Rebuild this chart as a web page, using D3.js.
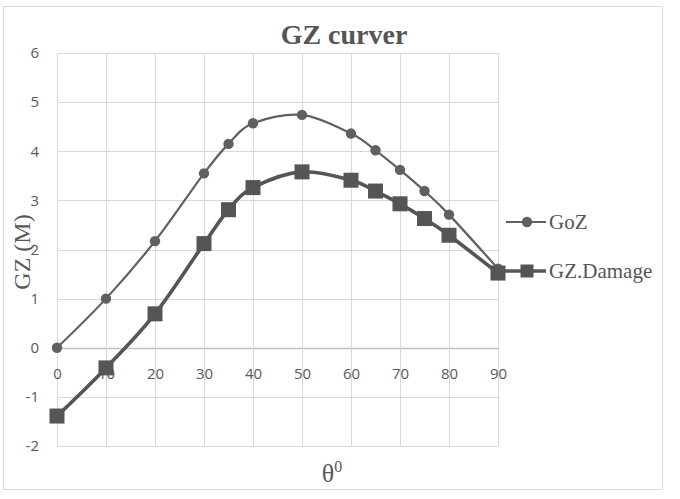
<!DOCTYPE html>
<html>
<head>
<meta charset="utf-8">
<script src="https://cdn.jsdelivr.net/npm/d3@7"></script>
<style>
  html, body { margin: 0; padding: 0; background: #fff; }
  svg { display: block; }
</style>
</head>
<body>
<svg id="chart" width="680" height="499"></svg>
<script>
const angles = [0, 10, 20, 30, 35, 40, 50, 60, 65, 70, 75, 80, 90];
const gozValues = [0, 1.0, 2.17, 3.55, 4.15, 4.57, 4.74, 4.36, 4.02, 3.62, 3.19, 2.71, 1.61];
const damageValues = [-1.39, -0.41, 0.69, 2.12, 2.81, 3.26, 3.58, 3.41, 3.19, 2.93, 2.63, 2.29, 1.52];
const xTicks = [0, 10, 20, 30, 40, 50, 60, 70, 80, 90];
const yTicks = [-2, -1, 0, 1, 2, 3, 4, 5, 6];
const seriesNames = ["GoZ", "GZ.Damage"];
const titleText = "GZ curver";
const yTitle = "GZ (M)";

(function () {
const svg = d3.select("#chart");
const pLeft = 57, pRight = 498, pTop = 53, pBottom = 446;

const x = d3.scaleLinear().domain([0, 90]).range([pLeft, pRight]);
const y = d3.scaleLinear().domain([-2, 6]).range([pBottom, pTop]);

// outer border
svg.append("rect").attr("x", 3.5).attr("y", 6.5).attr("width", 659).attr("height", 483)
  .attr("fill", "#fff").attr("stroke", "#d9d9d9").attr("stroke-width", 1);

// gridlines
const grid = svg.append("g");
grid.selectAll(".hg").data(yTicks).enter().append("line")
  .attr("x1", pLeft).attr("x2", pRight)
  .attr("y1", d => Math.round(y(d)) + 0.5).attr("y2", d => Math.round(y(d)) + 0.5)
  .attr("stroke", d => d === 0 ? "#bfbfbf" : "#d9d9d9").attr("stroke-width", d => d === 0 ? 1.5 : 1);
grid.selectAll(".vg").data(xTicks).enter().append("line")
  .attr("y1", pTop).attr("y2", pBottom)
  .attr("x1", d => Math.round(x(d)) + 0.5).attr("x2", d => Math.round(x(d)) + 0.5)
  .attr("stroke", "#d9d9d9").attr("stroke-width", 1);

const fmt = d => String(d);

// y tick labels
const yAxis = d3.axisLeft(y).tickValues(yTicks).tickSize(0).tickPadding(18).tickFormat(fmt);
const gy = svg.append("g").attr("transform", `translate(${pLeft},0)`).call(yAxis);
gy.select(".domain").remove();
gy.selectAll("text").attr("fill", "#595959").style("font-family", "'Open Sans', sans-serif").style("font-size", "15px");

// x tick labels, below zero line
const xAxis = d3.axisBottom(x).tickValues(xTicks).tickSize(0).tickPadding(21).tickFormat(fmt);
const gx = svg.append("g").attr("transform", `translate(0,${y(0)})`).call(xAxis);
gx.select(".domain").remove();
gx.selectAll("text").attr("fill", "#595959").style("font-family", "'Open Sans', sans-serif").style("font-size", "15px");

// lines
const lineGen = vals => d3.line().x((d, i) => x(angles[i])).y(d => y(d)).curve(d3.curveCatmullRom.alpha(0))(vals);

svg.append("path").attr("d", lineGen(gozValues)).attr("fill", "none").attr("stroke", "#606060").attr("stroke-width", 2.2);
svg.selectAll(".gm").data(gozValues).enter().append("circle")
  .attr("cx", (d, i) => x(angles[i])).attr("cy", d => y(d)).attr("r", 5.2).attr("fill", "#606060");

svg.append("path").attr("d", lineGen(damageValues)).attr("fill", "none").attr("stroke", "#555").attr("stroke-width", 3.6);
const sq = 15;
svg.selectAll(".dm").data(damageValues).enter().append("rect")
  .attr("x", (d, i) => x(angles[i]) - sq / 2).attr("y", d => y(d) - sq / 2)
  .attr("width", sq).attr("height", sq).attr("fill", "#555");

// title
svg.append("text").attr("x", 344).attr("y", 44).attr("text-anchor", "middle")
  .style("font-family", "'Liberation Serif', serif").style("font-weight", "bold").style("font-size", "28px")
  .attr("fill", "#555").text(titleText);

// y title
svg.append("text").attr("transform", "translate(30,252) rotate(-90)").attr("text-anchor", "middle")
  .style("font-family", "'Liberation Serif', serif").style("font-size", "24px")
  .attr("fill", "#595959").text(yTitle);

// x title
const xt = svg.append("text").attr("x", 332).attr("y", 482).attr("text-anchor", "middle")
  .style("font-family", "'Liberation Serif', serif").style("font-size", "26px").attr("fill", "#595959");
xt.append("tspan").text("θ");
xt.append("tspan").attr("dy", -10).style("font-size", "16px").text("0");

// legend
const lg = svg.append("g");
const legY = [222, 271];
lg.append("line").attr("x1", 506).attr("x2", 546).attr("y1", legY[0]).attr("y2", legY[0]).attr("stroke", "#606060").attr("stroke-width", 2.2);
lg.append("circle").attr("cx", 527).attr("cy", legY[0]).attr("r", 5.2).attr("fill", "#606060");
lg.append("line").attr("x1", 503).attr("x2", 546).attr("y1", legY[1]).attr("y2", legY[1]).attr("stroke", "#555").attr("stroke-width", 3.6);
lg.append("rect").attr("x", 527 - 6.5).attr("y", legY[1] - 6.5).attr("width", 13).attr("height", 13).attr("fill", "#555");
lg.selectAll(".lt").data(seriesNames).enter().append("text")
  .attr("x", 549).attr("y", (d, i) => legY[i] + 7)
  .style("font-family", "'Liberation Serif', serif").style("font-size", "21px").attr("fill", "#555").text(d => d);
})();
</script>
</body>
</html>
